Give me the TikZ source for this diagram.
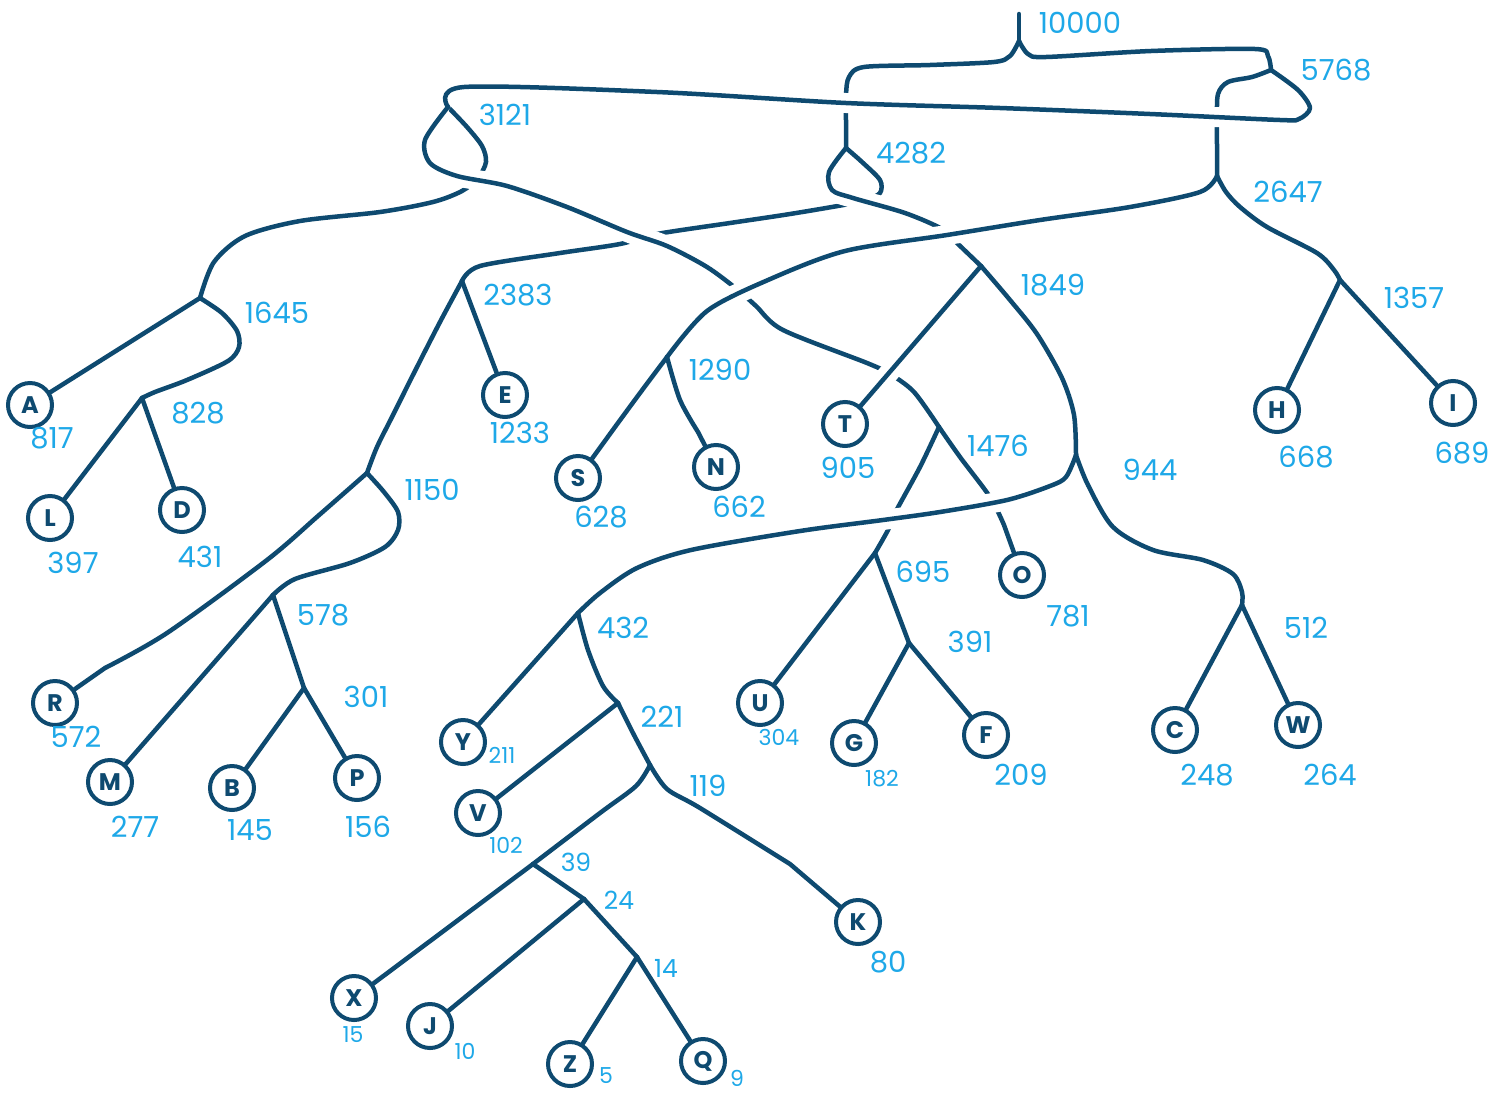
\documentclass[tikz,border=0pt]{standalone}
\usepackage{fontspec}
\setmainfont{Poppins}
\definecolor{ink}{RGB}{14,74,112}
\definecolor{num}{RGB}{30,168,232}
\tikzset{
  edge/.style={draw=ink, line width=4.5pt, line cap=round, line join=round},
  bridge/.style={preaction={draw=white, line width=20pt, line cap=butt, shorten <=#1, shorten >=#1}},
  bridge/.default=18pt,
  leaf/.style={circle, draw=ink, line width=4pt, minimum size=44pt, inner sep=0pt, fill=white, text=ink, font=\fontsize{24}{24}\selectfont\bfseries},
  val/.style={text=num, font=\fontsize{29}{29}\selectfont, inner sep=0pt},
  midval/.style={text=num, font=\fontsize{25}{25}\selectfont, inner sep=0pt},
  smallval/.style={text=num, font=\fontsize{22}{22}\selectfont, inner sep=0pt},
}
\begin{document}
\begin{tikzpicture}[x=1pt, y=-1pt]
\fill[white] (0,0) rectangle (1496,1093);
\useasboundingbox (0,0) rectangle (1496,1093);

% internal junctions
\coordinate (stub) at (1019,14);
\coordinate (j10000) at (1019,41);
\coordinate (j5768) at (1271,70);
\coordinate (j4282) at (846,148);
\coordinate (j3121) at (448,107);
\coordinate (j2647) at (1217,176);
\coordinate (j1645) at (200,298);
\coordinate (j828) at (142,398);
\coordinate (j2383) at (462,281);
\coordinate (j1150) at (367,473);
\coordinate (j578) at (273,595);
\coordinate (j301) at (304,688);
\coordinate (j1290) at (667,357);
\coordinate (j1849) at (981,266);
\coordinate (j1357) at (1340,280);
\coordinate (j1476) at (939,427);
\coordinate (j944) at (1076,455);
\coordinate (j695) at (875,553);
\coordinate (j391) at (909,643);
\coordinate (j512) at (1242,605);
\coordinate (j432) at (578,613);
\coordinate (j221) at (618,703);
\coordinate (j119) at (650,765);
\coordinate (j39) at (533,864);
\coordinate (j24) at (584,899);
\coordinate (j14) at (637,957);

% leaves
\node[leaf] (A) at (30,405) {A};
\node[leaf] (L) at (50,518) {L};
\node[leaf] (D) at (182,510) {D};
\node[leaf] (E) at (505,395) {E};
\node[leaf] (S) at (578,478) {S};
\node[leaf] (N) at (716,467) {N};
\node[leaf] (T) at (845,424) {T};
\node[leaf] (H) at (1277,410) {H};
\node[leaf] (I) at (1453,403) {I};
\node[leaf] (O) at (1022,575) {O};
\node[leaf] (R) at (55,703) {R};
\node[leaf] (M) at (110,782) {M};
\node[leaf] (B) at (232,788) {B};
\node[leaf] (P) at (357,778) {P};
\node[leaf] (Y) at (463,742) {Y};
\node[leaf] (V) at (478,813) {V};
\node[leaf] (U) at (760,703) {U};
\node[leaf] (G) at (854,743) {G};
\node[leaf] (F) at (986,735) {F};
\node[leaf] (C) at (1175,730) {C};
\node[leaf] (W) at (1298,725) {W};
\node[leaf] (K) at (858,922) {K};
\node[leaf] (X) at (354,998) {X};
\node[leaf] (J) at (430,1026) {J};
\node[leaf] (Z) at (570,1064) {Z};
\node[leaf] (Q) at (703,1061) {Q};

% branches that pass under others
\draw[edge] (stub) -- (j10000);
\draw[edge] plot[smooth] coordinates {(j10000) (1010,56) (994,62) (930,65) (864,67) (849,77) (846,95) (846,122) (j4282)};
\draw[edge] plot[smooth] coordinates {(j5768) (1252,77) (1228,82) (1218,94) (1217,120) (1217,150) (j2647)};
\draw[edge] plot[smooth] coordinates {(j3121) (467,127) (482,146) (486,162) (478,178) (462,191) (433,202) (380,212) (300,221) (245,236) (214,262) (j1645)};
\draw[edge] plot[smooth] coordinates {(j4282) (862,162) (880,180) (880,193) (866,200) (849,204) (790,214) (730,223) (657,234) (620,244) (560,253) (480,266) (j2383)};
\draw[edge] plot[smooth] coordinates {(j1476) (920,467) (895,513) (888,530) (j695)};
\draw[edge] plot[smooth] coordinates {(j1476) (960,457) (990,497) (1004,525)} -- (O);

% branches that cross over others
\draw[edge,bridge=14pt] plot[smooth] coordinates {(j5768) (1298,90) (1310,108) (1299,119) (1280,120) (1150,114) (1000,108) (846,103) (657,92) (464,87) (j3121)};
\draw[edge,bridge] plot[smooth] coordinates {(j4282) (829,172) (832,190) (853,198) (905,213) (942,229) (958,244) (j1849)};
\draw[edge,bridge] plot[smooth] coordinates {(j3121) (425,140) (430,163) (457,176) (507,186) (567,207) (627,232) (667,246) (707,267) (738,290) (756,306) (783,330) (867,363) (890,374) (914,392) (j1476)};
\draw[edge,bridge=16pt] plot[smooth] coordinates {(j2647) (1200,192) (1130,207) (1040,220) (947,235) (845,251) (768,280) (707,311) (j1290)};
\draw[edge,bridge] (j1849) -- (T);
\draw[edge,bridge=16pt] plot[smooth] coordinates {(j944) (1066,477) (1050,486) (1007,500) (940,512) (883,520) (800,531) (691,550) (637,568) (600,593) (j432)};

% remaining branches
\draw[edge] plot[smooth] coordinates {(j10000) (1028,54) (1046,57) (1151,51) (1255,49) (1268,56) (j5768)};
\draw[edge] plot[smooth] coordinates {(j1849) (1010,300) (1037,334) (1062,378) (1074,415) (j944)};
\draw[edge] plot[smooth] coordinates {(j2647) (1226,192) (1240,207) (1267,227) (1317,253) (1334,270) (j1357)};
\draw[edge] (j1645) -- (A);
\draw[edge] plot[smooth] coordinates {(j1645) (222,313) (237,331) (239,347) (228,361) (187,380) (155,392) (j828)};
\draw[edge] (j828) -- (L);
\draw[edge] (j828) -- (D);
\draw[edge] (j2383) -- (E);
\draw[edge] plot[smooth] coordinates {(j2383) (440,322) (417,367) (393,415) (377,447) (j1150)};
\draw[edge] plot[smooth] coordinates {(j1150) (318,516) (267,560) (167,633) (105,668)} -- (R);
\draw[edge] plot[smooth] coordinates {(j1150) (384,492) (398,512) (398,530) (385,547) (350,563) (295,579) (j578)};
\draw[edge] (j578) -- (M);
\draw[edge] (j578) -- (j301);
\draw[edge] (j301) -- (B);
\draw[edge] (j301) -- (P);
\draw[edge] plot[smooth] coordinates {(j1290) (640,393) (615,427)} -- (S);
\draw[edge] plot[smooth] coordinates {(j1290) (680,400) (698,432)} -- (N);
\draw[edge] (j1357) -- (H);
\draw[edge] (j1357) -- (I);
\draw[edge] plot[smooth] coordinates {(j944) (1088,485) (1113,527) (1153,550) (1203,560) (1233,574) (1242,592) (j512)};
\draw[edge] (j695) -- (U);
\draw[edge] (j695) -- (j391);
\draw[edge] (j391) -- (G);
\draw[edge] (j391) -- (F);
\draw[edge] (j512) -- (C);
\draw[edge] (j512) -- (W);
\draw[edge] (j432) -- (Y);
\draw[edge] plot[smooth] coordinates {(j432) (588,650) (603,686) (j221)};
\draw[edge] (j221) -- (V);
\draw[edge] plot[smooth] coordinates {(j221) (634,735) (j119)};
\draw[edge] plot[smooth] coordinates {(j119) (636,786) (600,813) (j39)};
\draw[edge] plot[smooth] coordinates {(j119) (667,789) (700,808) (790,864)} -- (K);
\draw[edge] (j39) -- (X);
\draw[edge] (j39) -- (j24);
\draw[edge] (j24) -- (J);
\draw[edge] (j24) -- (j14);
\draw[edge] (j14) -- (Z);
\draw[edge] (j14) -- (Q);

% weights of the internal nodes
\node[val] (v10000) at (1080,23) {10000};
\node[val] (v5768) at (1336,70) {5768};
\node[val] (v3121) at (505,115) {3121};
\node[val] (v4282) at (911,153) {4282};
\node[val] (v2647) at (1288,192) {2647};
\node[val] (v1645) at (277,313) {1645};
\node[val] (v828) at (198,413) {828};
\node[val] (v2383) at (518,295) {2383};
\node[val] (v1150) at (432,490) {1150};
\node[val] (v578) at (323,615) {578};
\node[val] (v301) at (366,697) {301};
\node[val] (v1290) at (720,370) {1290};
\node[val] (v1849) at (1053,285) {1849};
\node[val] (v1357) at (1414,298) {1357};
\node[val] (v1476) at (998,446) {1476};
\node[val] (v944) at (1150,470) {944};
\node[val] (v695) at (923,572) {695};
\node[val] (v391) at (970,642) {391};
\node[val] (v512) at (1306,628) {512};
\node[val] (v432) at (623,628) {432};
\node[val] (v221) at (662,717) {221};
\node[val] (v119) at (708,786) {119};
\node[midval] (v39) at (576,862) {39};
\node[midval] (v24) at (619,900) {24};
\node[midval] (v14) at (666,968) {14};

% weights of the leaves
\node[val] (wA) at (52,438) {817};
\node[val] (wL) at (73,563) {397};
\node[val] (wD) at (200,557) {431};
\node[val] (wE) at (520,433) {1233};
\node[val] (wS) at (601,517) {628};
\node[val] (wN) at (739,507) {662};
\node[val] (wT) at (848,468) {905};
\node[val] (wH) at (1306,457) {668};
\node[val] (wI) at (1462,453) {689};
\node[val] (wO) at (1068,616) {781};
\node[val] (wR) at (76,737) {572};
\node[val] (wM) at (135,827) {277};
\node[val] (wB) at (250,830) {145};
\node[val] (wP) at (368,827) {156};
\node[smallval] (wY) at (502,755) {211};
\node[smallval] (wV) at (506,845) {102};
\node[smallval] (wU) at (779,737) {304};
\node[smallval] (wG) at (882,779) {182};
\node[val] (wF) at (1021,775) {209};
\node[val] (wC) at (1207,775) {248};
\node[val] (wW) at (1330,775) {264};
\node[val] (wK) at (888,962) {80};
\node[smallval] (wX) at (353,1035) {15};
\node[smallval] (wJ) at (465,1051) {10};
\node[smallval] (wZ) at (606,1076) {5};
\node[smallval] (wQ) at (737,1078) {9};
\end{tikzpicture}
\end{document}
